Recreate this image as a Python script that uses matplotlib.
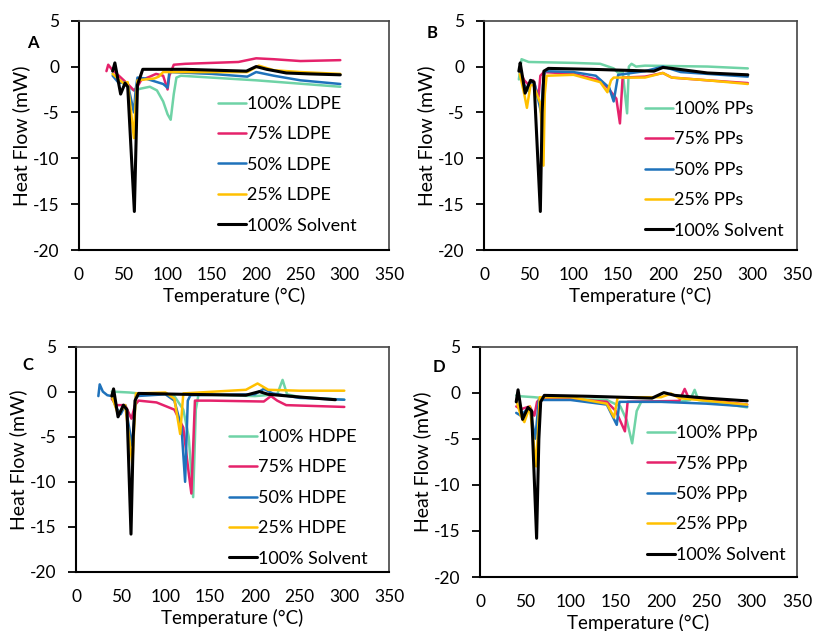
import matplotlib
matplotlib.use("Agg")
import matplotlib.pyplot as plt

plt.rcParams['font.family'] = ['Lato', 'DejaVu Sans']

C_TEAL = "#6fd3a6"
C_RED = "#e5226b"
C_BLUE = "#1f72bb"
C_GOLD = "#ffc000"
C_BLACK = "#000000"

# Panel A: LDPE
ldpe100_x = [38, 45, 55, 62, 70, 80, 88, 95, 100, 103.5, 107, 110, 115, 200, 295]
ldpe100_y = [-0.8, -1.5, -2.2, -2.6, -2.4, -2.2, -2.6, -3.8, -5.2, -5.8, -3.0, -1.2, -1.0, -1.5, -2.2]
ldpe75_x = [31, 33, 37, 45, 55, 62, 66, 70, 80, 87, 95, 100, 102, 107, 120, 180, 200, 220, 250, 295]
ldpe75_y = [-0.5, 0.2, -0.3, -1.0, -1.9, -2.6, -2.2, -1.5, -1.1, -0.8, -1.0, -2.5, -1.0, 0.2, 0.3, 0.5, 0.9, 0.8, 0.6, 0.7]
ldpe50_x = [38, 45, 50, 55, 62, 64, 66, 75, 85, 95, 100, 102, 150, 190, 200, 220, 250, 295]
ldpe50_y = [-1.0, -1.8, -1.7, -1.9, -5.0, -2.5, -1.2, -1.3, -1.6, -1.9, -2.3, -0.6, -0.8, -1.1, -0.6, -1.0, -1.5, -1.9]
ldpe25_x = [38, 45, 50, 55, 62, 64, 66, 75, 85, 90, 95, 150, 190, 203, 220, 250, 295]
ldpe25_y = [-0.8, -1.4, -1.8, -1.7, -7.8, -4.0, -1.5, -1.4, -1.3, -1.1, -0.6, -0.6, -0.6, 0.1, -0.4, -0.6, -0.8]
solv_A_x = [38, 40.5, 47, 52, 55, 62.5, 66, 72, 120, 189, 200, 212, 234, 260, 295]
solv_A_y = [-0.5, 0.4, -3.0, -1.8, -2.2, -15.8, -2.0, -0.3, -0.3, -0.5, 0.0, -0.3, -0.7, -0.8, -0.9]

# Panel B: PPs
pps100_x = [39, 42, 50, 100, 130, 145, 150, 155, 160, 162, 165, 170, 180, 250, 295]
pps100_y = [-1.4, 0.8, 0.5, 0.4, 0.3, -0.2, -0.7, -0.5, -5.1, 0.0, 0.3, 0.0, 0.1, 0.0, -0.2]
pps75_x = [40, 45, 50, 55, 61, 63, 67, 100, 130, 140, 148, 152, 155, 180, 200, 210, 250, 295]
pps75_y = [-0.5, -1.5, -2.0, -1.5, -3.3, -1.0, -0.6, -0.8, -1.5, -2.5, -3.5, -6.2, -1.2, -1.1, -0.7, -1.2, -1.5, -1.8]
pps50_x = [40, 45, 50, 53, 57, 64, 66, 68, 100, 125, 140, 145, 150, 180, 200, 220, 295]
pps50_y = [-0.3, -2.0, -2.7, -1.5, -2.0, -5.1, -2.0, -0.5, -0.6, -1.0, -2.3, -3.8, -0.9, -0.5, 0.0, -0.6, -1.1]
pps25_x = [40, 45, 48, 52, 55, 63, 66.5, 68, 70, 100, 130, 138, 142, 145, 180, 200, 210, 250, 295]
pps25_y = [-0.8, -3.0, -4.5, -2.0, -2.0, -4.0, -10.8, -3.0, -1.0, -0.9, -1.7, -2.8, -1.5, -1.2, -1.2, -0.7, -1.2, -1.5, -1.9]
solv_B_x = [39, 40.5, 46, 52, 56, 63, 65, 67, 72, 120, 190, 200, 210, 250, 295]
solv_B_y = [-0.5, 0.4, -2.9, -1.5, -1.7, -15.8, -5.0, -0.5, -0.2, -0.3, -0.5, -0.1, -0.2, -0.7, -0.9]

# Panel C: HDPE
hdpe100_x = [40, 60, 70, 100, 110, 120, 126, 131, 134, 137, 200, 225, 231, 236, 250, 300]
hdpe100_y = [0.0, -0.1, -0.2, -0.2, -0.5, -2.0, -5.0, -11.7, -2.0, -0.3, -0.5, -0.3, 1.3, -0.3, -0.6, -0.9]
hdpe75_x = [40, 45, 55, 62, 66, 70, 90, 110, 120, 126, 129, 133, 150, 210, 218, 225, 235, 300]
hdpe75_y = [-0.8, -1.5, -1.5, -3.0, -1.5, -1.0, -1.2, -2.0, -4.0, -9.0, -11.3, -1.0, -1.0, -1.1, -0.5, -1.0, -1.5, -1.7]
hdpe50_x = [25, 26.5, 30, 35, 40, 45, 50, 55, 63, 67, 100, 110, 118, 122, 125, 128, 200, 210, 220, 250, 300]
hdpe50_y = [-0.5, 0.8, 0.0, -0.4, -0.5, -1.8, -2.5, -1.5, -6.0, -0.5, -0.3, -1.0, -4.0, -10.0, -1.0, -0.4, -0.3, 0.3, -0.2, -0.7, -0.9]
hdpe25_x = [40, 47, 55, 63, 67, 100, 110, 116.5, 120, 190, 203, 215, 250, 300]
hdpe25_y = [-0.5, -2.5, -1.5, -8.0, -0.2, -0.1, -0.8, -4.7, -0.2, 0.2, 0.9, 0.2, 0.1, 0.1]
solv_C_x = [40, 42, 47, 53, 57, 61.5, 64, 66, 70, 120, 190, 205, 215, 250, 290]
solv_C_y = [-0.5, 0.3, -2.8, -1.5, -2.0, -15.8, -5.0, -1.0, -0.2, -0.3, -0.4, 0.0, -0.3, -0.6, -0.9]

# Panel D: PPp
ppp100_x = [40, 45, 60, 70, 100, 140, 155, 162, 168, 173, 178, 220, 232, 237, 241, 295]
ppp100_y = [-0.3, -0.4, -0.5, -0.6, -0.7, -0.8, -1.5, -3.0, -5.5, -2.0, -1.0, -1.0, -0.8, 0.3, -0.8, -1.6]
ppp75_x = [40, 45, 55, 60, 63, 67, 100, 140, 150, 160, 163, 220, 226, 230, 295]
ppp75_y = [-1.5, -1.8, -1.5, -2.5, -1.0, -0.6, -0.7, -1.0, -2.0, -4.2, -1.0, -0.9, 0.4, -0.5, -1.3]
ppp50_x = [40, 45, 50, 55, 61, 65, 100, 140, 151, 154, 200, 250, 295]
ppp50_y = [-2.2, -2.5, -2.0, -1.6, -5.0, -0.8, -0.8, -1.3, -3.5, -1.0, -1.0, -1.2, -1.5]
ppp25_x = [40, 45, 49, 55, 62, 66, 100, 140, 148, 152, 200, 211, 220, 295]
ppp25_y = [-0.8, -2.5, -3.2, -1.5, -8.0, -0.5, -0.5, -1.2, -2.7, -0.5, -0.5, -0.1, -0.6, -1.3]
solv_D_x = [40, 42, 47, 53, 57, 62.5, 65, 67, 71, 120, 190, 203, 215, 250, 295]
solv_D_y = [-1.0, 0.3, -2.9, -1.6, -2.0, -15.8, -5.0, -1.0, -0.3, -0.4, -0.6, 0.0, -0.3, -0.6, -0.9]

x_ticks = [0, 50, 100, 150, 200, 250, 300, 350]
y_ticks = [-20, -15, -10, -5, 0, 5]

W, H = 814, 631
fig = plt.figure(figsize=(W / 100, H / 100), dpi=100)

def box(l, t, r, b):
    return [l / W, 1 - b / H, (r - l) / W, (b - t) / H]

# (letter, axes rect, material, series, letter pos px, legend anchor)
panels = [
    ("A", box(79, 20.7, 389, 250), "LDPE",
     [(ldpe100_x, ldpe100_y), (ldpe75_x, ldpe75_y), (ldpe50_x, ldpe50_y), (ldpe25_x, ldpe25_y), (solv_A_x, solv_A_y)],
     (33, 43), (0.448, 0.672)),
    ("B", box(484, 20.7, 797, 250), "PPs",
     [(pps100_x, pps100_y), (pps75_x, pps75_y), (pps50_x, pps50_y), (pps25_x, pps25_y), (solv_B_x, solv_B_y)],
     (432, 33), (0.514, 0.650)),
    ("C", box(76, 346.5, 389, 572), "HDPE",
     [(hdpe100_x, hdpe100_y), (hdpe75_x, hdpe75_y), (hdpe50_x, hdpe50_y), (hdpe25_x, hdpe25_y), (solv_C_x, solv_C_y)],
     (28, 365), (0.489, 0.634)),
    ("D", box(480, 346.5, 797, 577), "PPp",
     [(ppp100_x, ppp100_y), (ppp75_x, ppp75_y), (ppp50_x, ppp50_y), (ppp25_x, ppp25_y), (solv_D_x, solv_D_y)],
     (439, 367), (0.527, 0.659)),
]

colors = [C_TEAL, C_RED, C_BLUE, C_GOLD, C_BLACK]
pcts = ["100%", "75%", "50%", "25%"]

for letter, rect, mat, series, lpos, lanchor in panels:
    ax = fig.add_axes(rect)
    labels = [f"{p} {mat}" for p in pcts] + ["100% Solvent"]
    handles = []
    for i in range(5):
        xs, ys = series[i]
        ln, = ax.plot(xs, ys, color=colors[i], lw=2.2 if i == 4 else 1.8,
                      solid_joinstyle='round', solid_capstyle='round', label=labels[i])
        handles.append(ln)
    ax.set_xlim(0, 350)
    ax.set_ylim(-20, 5)
    ax.set_xticks(x_ticks)
    ax.set_yticks(y_ticks)
    ax.set_xticklabels([str(v) for v in x_ticks])
    ax.set_yticklabels([str(v) for v in y_ticks])
    ax.tick_params(axis='x', length=0, pad=12, labelsize=12.5)
    ax.tick_params(axis='y', length=6, width=1.3, direction='out', pad=8, labelsize=12.5)
    for s in ['left', 'bottom']:
        ax.spines[s].set_color('black')
        ax.spines[s].set_linewidth(1.5)
    for s in ['top', 'right']:
        ax.spines[s].set_color('#444444')
        ax.spines[s].set_linewidth(1.2)
    ax.set_xlabel("Temperature (\u00b0C)", fontsize=13.5, labelpad=3)
    ax.set_ylabel("Heat Flow (mW)", fontsize=14, labelpad=2)
    fig.text(lpos[0] / W, 1 - lpos[1] / H, letter, fontsize=12, fontweight='bold',
             ha='center', va='center')
    ax.legend(handles, labels, loc='upper left',
              bbox_to_anchor=lanchor, frameon=False, fontsize=13,
              handlelength=1.55, handletextpad=0.08, labelspacing=0.80,
              borderpad=0, borderaxespad=0)

fig.savefig("out.png", dpi=100)
